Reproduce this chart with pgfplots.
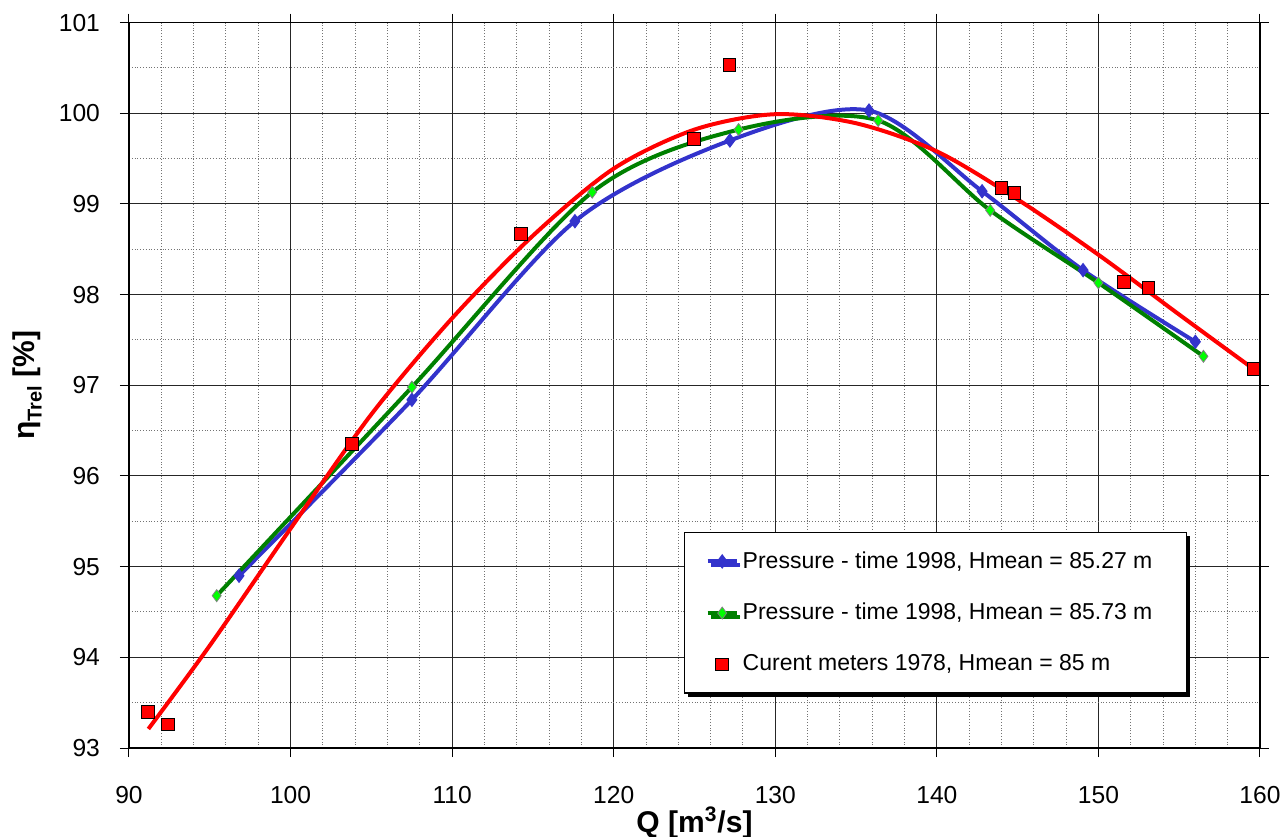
\documentclass[border=0pt]{standalone}
\usepackage{fontspec}
\setmainfont{Liberation Sans}
\usepackage{pgfplots}
\pgfplotsset{compat=1.18}
\usetikzlibrary{shadows}

\definecolor{ptblue}{RGB}{51,51,204}
\definecolor{ptgreen}{RGB}{0,128,0}
\definecolor{ptlime}{RGB}{0,255,0}

\newcommand{\tickfont}{\fontsize{12.3}{14}\selectfont}
\newcommand{\legfont}{\fontsize{11.5}{13}\selectfont}
\newcommand{\labfont}{\fontsize{15}{17}\selectfont\bfseries}

\pgfplotsset{
  short line legend/.style={legend image code/.code={%
    \draw[mark repeat=2, mark phase=2, ##1]
      plot coordinates {(0pt,0pt) (7.25pt,0pt) (14.5pt,0pt)};}},
  point legend/.style={legend image code/.code={%
    \draw[##1] plot coordinates {(7.25pt,0pt)};}},
}

\begin{document}
\begin{tikzpicture}
\useasboundingbox (-64.5pt,-44pt) rectangle (575.5pt,374pt);
\begin{axis}[
  at={(0,0)}, anchor=south west,
  scale only axis, width=565.5pt, height=362.7pt,
  xmin=90, xmax=160, ymin=93, ymax=101,
  xtick={90,100,...,160}, ytick={93,94,...,101},
  minor x tick num=4, minor y tick num=1,
  grid=both,
  major grid style={black!85, line width=0.5pt},
  minor grid style={black!55, densely dotted, line width=0.5pt},
  tick align=outside, major tick length=4.5pt, minor tick length=0pt,
  tick style={black, line width=0.5pt},
  axis line style={black, line width=0.6pt},
  /pgf/number format/assume math mode=true,
  tick label style={font=\tickfont},
  xticklabel style={anchor=north, yshift=-11pt},
  yticklabel style={anchor=east, xshift=-6.5pt},
  every axis x label/.style={at={(axis description cs:0.5,0)}, yshift=-37.5pt, anchor=center, font=\labfont},
  every axis y label/.style={at={(axis description cs:-0.090,0.5)}, rotate=90, anchor=center, font=\labfont},
  xlabel={Q [m\textsuperscript{3}/s]},
  ylabel={η\raisebox{-0.45ex}{\fontsize{10}{11}\selectfont Trel} [\%]},
  legend style={at={(0.9355,0.2978)}, anchor=north east, font=\legfont,
    draw=black, line width=0.6pt, fill=white,
    drop shadow={shadow xshift=1.8pt, shadow yshift=-1.8pt, fill=black, opacity=1},
    row sep=12pt, inner xsep=10.5pt, inner ysep=7.5pt},
  legend cell align=left,
]
% Pressure - time 1998, Hmean = 85.27 m
\addplot[ptblue, line width=2pt, smooth, mark=diamond*, mark size=3.3pt,
  mark options={fill=ptblue, draw=ptblue, line width=0.5pt},
  short line legend] coordinates {
  (96.81,94.90) (107.51,96.84) (117.60,98.81) (127.19,99.70)
  (135.80,100.03) (142.80,99.14) (149.05,98.27) (156.00,97.48)};
\addlegendentry{Pressure - time 1998, Hmean = 85.27 m\hspace*{4.5pt}}

% Pressure - time 1998, Hmean = 85.73 m
\addplot[ptgreen, line width=2pt, smooth, mark=diamond*, mark size=3pt,
  mark options={fill=ptlime, draw=gray, line width=0.4pt},
  short line legend] coordinates {
  (95.43,94.68) (107.51,96.98) (118.67,99.13) (127.73,99.82)
  (136.37,99.92) (143.30,98.93) (150.00,98.13) (156.50,97.32)};
\addlegendentry{Pressure - time 1998, Hmean = 85.73 m\hspace*{4.5pt}}

% Curent meters 1978, Hmean = 85 m
\addplot[only marks, mark=square*, mark size=3.2pt,
  mark options={fill=red, draw=black, line width=0.5pt},
  point legend] coordinates {
  (91.20,93.40) (92.41,93.26) (103.82,96.35) (114.28,98.67)
  (124.96,99.72) (127.17,100.53) (144.00,99.18) (144.80,99.12)
  (151.60,98.14) (153.10,98.07) (159.60,97.18)};
\addlegendentry{Curent meters 1978, Hmean = 85 m}

% trend line of the current-meter points
\addplot[red, line width=2pt, smooth, forget plot] coordinates {
  (91.2,93.21) (95,94.13) (100,95.42) (105,96.68) (110,97.74)
  (115,98.65) (120,99.39) (125,99.82) (130,99.99) (135,99.89)
  (140,99.58) (145,99.05) (150,98.44) (155,97.78) (159.6,97.18)};
\end{axis}
\end{tikzpicture}
\end{document}
